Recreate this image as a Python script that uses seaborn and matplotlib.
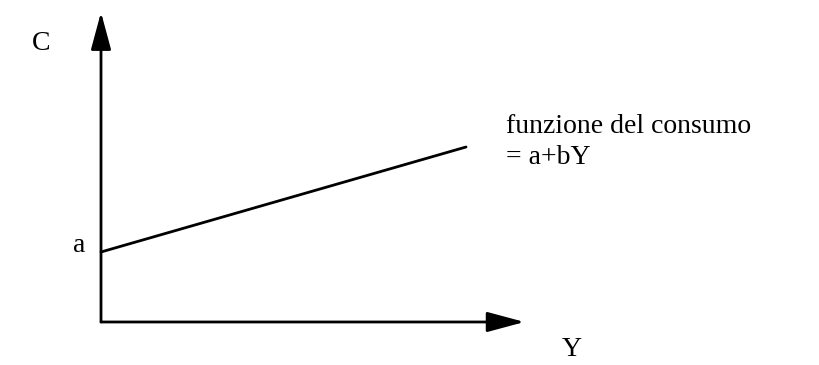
import matplotlib.pyplot as plt
import seaborn as sns
import pandas as pd

reddito = [0, 10]
consumo = [2, 5]
axis_len_x = 11.6
axis_len_y = 8.85

sns.set_style("white")
plt.rcParams['font.family'] = ['Liberation Serif', 'DejaVu Serif']

fig = plt.figure(figsize=(8.19, 3.65), dpi=100)
ax = fig.add_axes([0, 0, 1, 1])
ax.set_xlim(-2.767, 19.67)
ax.set_ylim(-1.229, 9.2)
ax.axis('off')

df = pd.DataFrame({'Y': reddito, 'C': consumo})
sns.lineplot(data=df, x='Y', y='C', color='black', linewidth=2.0, ax=ax)

# assi con frecce
arrow = dict(arrowstyle='-|>,head_length=2.3,head_width=0.62', color='black',
             lw=2.0, shrinkA=0, shrinkB=0)
ax.annotate('', xy=(axis_len_x, 0), xytext=(0, 0), arrowprops=arrow)
ax.annotate('', xy=(0, axis_len_y), xytext=(0, 0), arrowprops=arrow)

fs = 20
ax.text(-1.65, 7.95, 'C', fontsize=fs, color='black', ha='center', va='center')
ax.text(12.9, -0.78, 'Y', fontsize=fs, color='black', ha='center', va='center')
ax.text(-0.6, 2.0, 'a', fontsize=fs, color='black', ha='center', va='baseline')
ax.text(11.1, 5.4, 'funzione del consumo', fontsize=fs, color='black', ha='left', va='baseline')
ax.text(11.1, 4.5, '= a+bY', fontsize=fs, color='black', ha='left', va='baseline')

fig.savefig('out.png', dpi=100)
